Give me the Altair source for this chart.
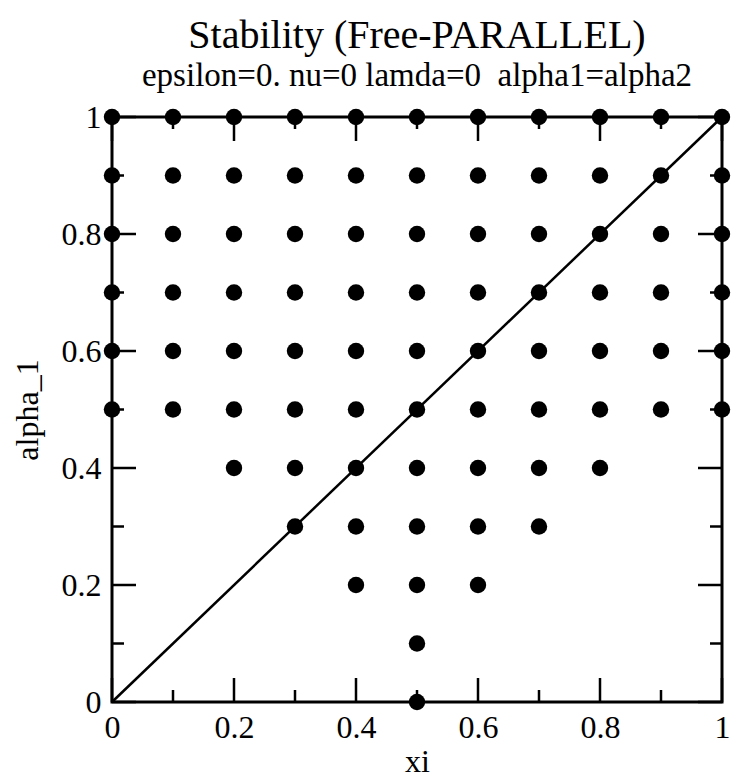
import altair as alt
import pandas as pd

# Stable points: for each alpha_1 row, the xi values marked
row_alpha = [1.0, 0.9, 0.8, 0.7, 0.6, 0.5, 0.4, 0.3, 0.2, 0.1, 0.0]
row_xi = [
    [0.0, 0.1, 0.2, 0.3, 0.4, 0.5, 0.6, 0.7, 0.8, 0.9, 1.0],
    [0.0, 0.1, 0.2, 0.3, 0.4, 0.5, 0.6, 0.7, 0.8, 0.9, 1.0],
    [0.0, 0.1, 0.2, 0.3, 0.4, 0.5, 0.6, 0.7, 0.8, 0.9, 1.0],
    [0.0, 0.1, 0.2, 0.3, 0.4, 0.5, 0.6, 0.7, 0.8, 0.9, 1.0],
    [0.0, 0.1, 0.2, 0.3, 0.4, 0.5, 0.6, 0.7, 0.8, 0.9, 1.0],
    [0.0, 0.1, 0.2, 0.3, 0.4, 0.5, 0.6, 0.7, 0.8, 0.9, 1.0],
    [0.2, 0.3, 0.4, 0.5, 0.6, 0.7, 0.8],
    [0.3, 0.4, 0.5, 0.6, 0.7],
    [0.4, 0.5, 0.6],
    [0.5],
    [0.5],
]

diag_xi = [0.0, 1.0]
diag_alpha = [0.0, 1.0]

major_ticks = [0.0, 0.2, 0.4, 0.6, 0.8, 1.0]
minor_ticks = [0.1, 0.3, 0.5, 0.7, 0.9]

points = pd.DataFrame(
    [{"xi": x, "alpha_1": a} for a, xs in zip(row_alpha, row_xi) for x in xs]
)
diag = pd.DataFrame({"xi": diag_xi, "alpha_1": diag_alpha})
ticks = pd.DataFrame(
    [{"xi": v, "alpha_1": v, "kind": "major"} for v in major_ticks]
    + [{"xi": v, "alpha_1": v, "kind": "minor"} for v in minor_ticks]
)

W, H = 610, 585
FONT = "Liberation Serif"
MAJ, MIN = 24, 12

xscale = alt.Scale(domain=[0, 1], nice=False, zero=False)
yscale = alt.Scale(domain=[0, 1], nice=False, zero=False)

xaxis = alt.Axis(
    values=major_ticks, format="~g", title="xi", grid=False, domain=False,
    ticks=False, labelPadding=10, labelFlush=False, labelOverlap=False,
    titlePadding=3, labelFont=FONT, titleFont=FONT, labelFontSize=32,
    titleFontSize=32, labelColor="black", titleColor="black",
    titleFontWeight="normal", labelFontWeight="normal",
)
yaxis = alt.Axis(
    values=major_ticks, format="~g", title="alpha_1", grid=False, domain=False,
    ticks=False, labelPadding=11, labelFlush=False, labelOverlap=False,
    titlePadding=17, labelFont=FONT, titleFont=FONT, labelFontSize=32,
    titleFontSize=32, labelColor="black", titleColor="black",
    titleFontWeight="normal", labelFontWeight="normal",
)

X = alt.X("xi:Q", scale=xscale, axis=xaxis)
Y = alt.Y("alpha_1:Q", scale=yscale, axis=yaxis)

def tick_layer(kind, length):
    d = ticks[ticks["kind"] == kind]
    base = alt.Chart(d).mark_rule(color="black", strokeWidth=2.5)
    return [
        base.encode(x=X, y=alt.value(H), y2=alt.value(H - length)),
        base.encode(x=X, y=alt.value(0), y2=alt.value(length)),
        base.encode(y=Y, x=alt.value(0), x2=alt.value(length)),
        base.encode(y=Y, x=alt.value(W), x2=alt.value(W - length)),
    ]

line = alt.Chart(diag).mark_line(color="black", strokeWidth=2.5).encode(x=X, y=Y)
dots = alt.Chart(points).mark_point(
    filled=True, shape="circle", color="black", size=270, opacity=1
).encode(x=X, y=Y)

chart = alt.layer(
    *tick_layer("major", MAJ), *tick_layer("minor", MIN), line, dots
).properties(
    width=W,
    height=H,
    autosize=alt.AutoSizeParams(type="none"),
    padding={"left": 112, "top": 117, "right": 11, "bottom": 77},
    title=alt.Title(
        "Stability (Free-PARALLEL)",
        subtitle="epsilon=0. nu=0 lamda=0\u00a0 alpha1=alpha2",
        anchor="middle",
        frame="group",
        offset=8,
        subtitlePadding=4,
        font=FONT,
        fontSize=40,
        fontWeight="normal",
        color="black",
        subtitleFont=FONT,
        subtitleFontSize=33,
        subtitleFontWeight="normal",
        subtitleColor="black",
    ),
).configure(
    background="white",
    font=FONT,
).configure_view(
    stroke="black", strokeWidth=3,
)

chart.save("out.html", embed_options={"renderer": "svg", "actions": False})
